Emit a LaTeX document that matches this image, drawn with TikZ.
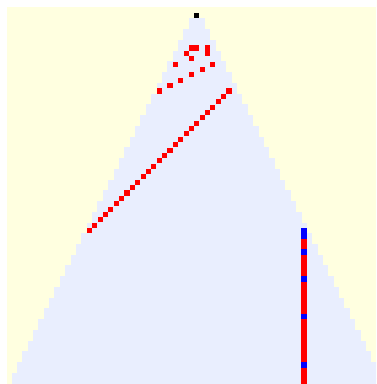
\documentclass[tikz,border=0pt]{standalone}
\usepackage{tikz}
\definecolor{bgyellow}{RGB}{255,255,224}
\definecolor{conecol}{RGB}{233,238,254}
\newcommand\cellsq[3]{\fill[#3] ({196.8+5.37*(#1)-2.55},{15.8+5.37*(#2)-2.55}) rectangle +(5.1,5.1);}
\begin{document}
\begin{tikzpicture}[x=1pt,y=-1pt]
\useasboundingbox (0,0) rectangle (376,384);
\fill[white] (0,0) rectangle (376,384);
\fill[bgyellow] (7.3,7.3) rectangle (376,384);
\begin{scope}
\clip (7.3,7.3) rectangle (376,384);
\foreach \r in {1,...,69} {
  \pgfmathsetmacro{\n}{floor((\r+1)/2)}
  \pgfmathsetmacro{\yt}{13.1+5.37*\r}
  \fill[conecol] ({194.1-5.37*\n},\yt) rectangle ({199.5+5.37*\n},{\yt+5.67});
}
% vertical line
\fill[red] (301.3,227.9) rectangle (306.7,384);
\foreach \r in {40,41,44,49,56,65} {
  \pgfmathsetmacro{\yt}{13.1+5.37*\r}
  \fill[blue] (301.3,\yt) rectangle (306.7,{\yt+5.37});
}
\end{scope}
% black seed
\cellsq{0}{0}{black}
% top cluster
\fill[red] ({196.8-5.37-2.55},{15.8+5.37*6-2.55}) rectangle ({196.8+2.55},{15.8+5.37*6+2.55});
\fill[red] ({196.8+5.37*2-2.55},{15.8+5.37*6-2.55}) rectangle ({196.8+5.37*2+2.55},{15.8+5.37*7+2.55});
\cellsq{-2}{7}{red}
\cellsq{-1}{8}{red}
\cellsq{-4}{9}{red}
\cellsq{3}{9}{red}
\cellsq{1}{10}{red}
\cellsq{-1}{11}{red}
\cellsq{-3}{12}{red}
\cellsq{-5}{13}{red}
\cellsq{-7}{14}{red}
% diagonal
\foreach \k in {0,...,26} {
  \cellsq{6-\k}{14+\k}{red}
}
\end{tikzpicture}
\end{document}
